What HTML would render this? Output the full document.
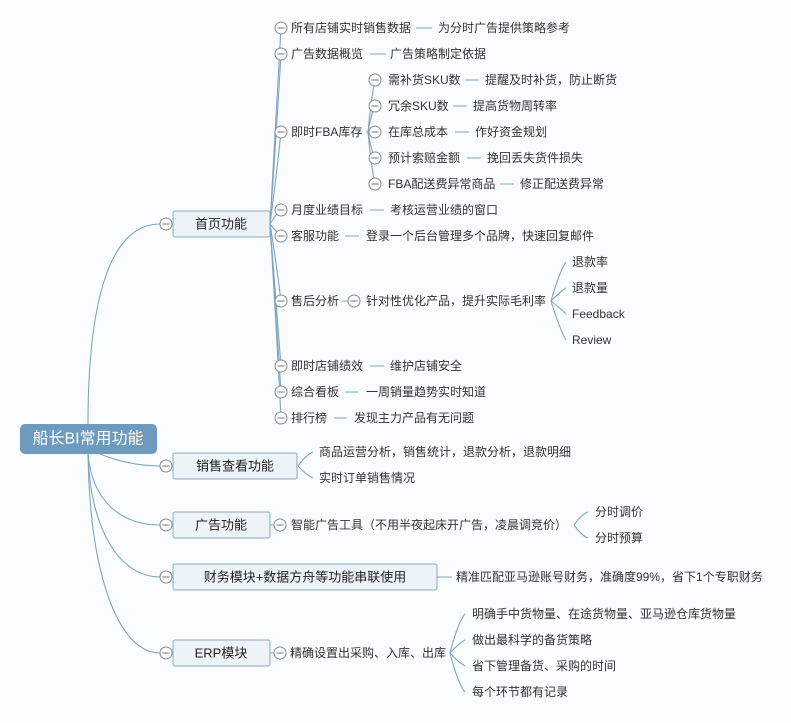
<!DOCTYPE html>
<html><head><meta charset="utf-8"><style>
html,body{margin:0;padding:0;background:#fbfcfd;}
svg{display:block;font-family:"Liberation Sans","Noto Sans CJK SC",sans-serif;}
.t{font-size:12px;fill:#333;dominant-baseline:central;}
.b{font-size:13px;fill:#222;dominant-baseline:central;text-anchor:middle;}
.l{stroke:#7fa4c2;stroke-width:1.1;fill:none;}
.d{stroke:#7fa4c2;stroke-width:1;}
.box{fill:#eef3f8;stroke:#8aaac5;stroke-width:1;}
</style></head><body>
<svg width="791" height="723" viewBox="0 0 791 723" xmlns="http://www.w3.org/2000/svg">
<defs>
<g id="c"><circle r="6" fill="#fbfcfd" stroke="#8a8a8a" stroke-width="1"/><line x1="-3.5" y1="0" x2="3.5" y2="0" stroke="#777" stroke-width="1"/></g>
</defs>
<!-- root connectors -->
<path class="l" d="M88 424 C88 300 110 224 160 224"/>
<path class="l" d="M100 454 C120 462 140 466 160 466"/>
<path class="l" d="M88 454 C92 500 120 525 160 525"/>
<path class="l" d="M88 454 C90 530 120 577 160 577"/>
<path class="l" d="M88 454 C90 580 120 653 160 653"/>
<rect x="20" y="424" width="137" height="30" rx="5" fill="#6e9bbd"/>
<text x="88" y="439" font-size="16" fill="#fff" text-anchor="middle" dominant-baseline="central">船长BI常用功能</text>

<!-- level1 boxes -->
<rect class="box" x="173" y="211" width="97" height="26" rx="2"/><text class="b" x="221" y="224">首页功能</text>
<rect class="box" x="173" y="453" width="124" height="26" rx="2"/><text class="b" x="235" y="466">销售查看功能</text>
<rect class="box" x="173" y="512" width="97" height="26" rx="2"/><text class="b" x="221" y="525">广告功能</text>
<rect class="box" x="173" y="564" width="264" height="26" rx="2"/><text class="b" x="305" y="577">财务模块+数据方舟等功能串联使用</text>
<rect class="box" x="173" y="640" width="97" height="26" rx="2"/><text class="b" x="221" y="653">ERP模块</text>
<use href="#c" x="166" y="224"/><use href="#c" x="166" y="466"/><use href="#c" x="166" y="525"/><use href="#c" x="166" y="577"/><use href="#c" x="166" y="653"/>

<!-- 首页 children connectors -->
<g class="l">
<path d="M270 224 Q276 120 281 28"/>
<path d="M270 224 Q276 140 281 54"/>
<path d="M270 224 Q276 180 281 132"/>
<path d="M270 224 Q276 214 281 210"/>
<path d="M270 224 Q276 232 281 236"/>
<path d="M270 224 Q276 260 281 301"/>
<path d="M270 224 Q276 300 281 366"/>
<path d="M270 224 Q276 310 281 392"/>
<path d="M270 224 Q276 320 281 418"/>
</g>
<use href="#c" x="281" y="28"/><use href="#c" x="281" y="54"/><use href="#c" x="281" y="132"/><use href="#c" x="281" y="210"/><use href="#c" x="281" y="236"/><use href="#c" x="281" y="301"/><use href="#c" x="281" y="366"/><use href="#c" x="281" y="392"/><use href="#c" x="281" y="418"/>

<text class="t" x="291" y="28">所有店铺实时销售数据</text><line class="d" x1="416" y1="28" x2="432" y2="28"/><text class="t" x="438" y="28">为分时广告提供策略参考</text>
<text class="t" x="291" y="54">广告数据概览</text><line class="d" x1="370" y1="54" x2="386" y2="54"/><text class="t" x="390" y="54">广告策略制定依据</text>
<text class="t" x="291" y="132">即时FBA库存</text>
<g class="l">
<path d="M368 132 Q371 100 375 80"/><path d="M368 132 Q371 115 375 106"/><path d="M366 132 L375 132"/><path d="M368 132 Q371 150 375 158"/><path d="M368 132 Q371 165 375 184"/>
</g>
<use href="#c" x="375" y="80"/><use href="#c" x="375" y="106"/><use href="#c" x="375" y="132"/><use href="#c" x="375" y="158"/><use href="#c" x="375" y="184"/>
<text class="t" x="388" y="80">需补货SKU数</text><line class="d" x1="465" y1="80" x2="479" y2="80"/><text class="t" x="485" y="80">提醒及时补货，防止断货</text>
<text class="t" x="388" y="106">冗余SKU数</text><line class="d" x1="453" y1="106" x2="467" y2="106"/><text class="t" x="473" y="106">提高货物周转率</text>
<text class="t" x="388" y="132">在库总成本</text><line class="d" x1="455" y1="132" x2="469" y2="132"/><text class="t" x="475" y="132">作好资金规划</text>
<text class="t" x="388" y="158">预计索赔金额</text><line class="d" x1="467" y1="158" x2="481" y2="158"/><text class="t" x="487" y="158">挽回丢失货件损失</text>
<text class="t" x="388" y="184">FBA配送费异常商品</text><line class="d" x1="500" y1="184" x2="514" y2="184"/><text class="t" x="520" y="184">修正配送费异常</text>
<text class="t" x="291" y="210">月度业绩目标</text><line class="d" x1="370" y1="210" x2="384" y2="210"/><text class="t" x="390" y="210">考核运营业绩的窗口</text>
<text class="t" x="291" y="236">客服功能</text><line class="d" x1="345" y1="236" x2="359" y2="236"/><text class="t" x="366" y="236">登录一个后台管理多个品牌，快速回复邮件</text>
<text class="t" x="291" y="301">售后分析</text><line class="d" x1="342" y1="301" x2="348" y2="301"/><use href="#c" x="354" y="301"/>
<text class="t" x="366" y="301">针对性优化产品，提升实际毛利率</text>
<g class="l">
<path d="M551 301 Q560 270 566 262"/><path d="M551 301 Q560 292 566 288"/><path d="M551 301 Q560 308 566 314"/><path d="M551 301 Q560 330 566 340"/>
</g>
<text class="t" x="572" y="262">退款率</text><text class="t" x="572" y="288">退款量</text><text class="t" x="572" y="314">Feedback</text><text class="t" x="572" y="340">Review</text>
<text class="t" x="291" y="366">即时店铺绩效</text><line class="d" x1="370" y1="366" x2="384" y2="366"/><text class="t" x="390" y="366">维护店铺安全</text>
<text class="t" x="291" y="392">综合看板</text><line class="d" x1="345" y1="392" x2="358" y2="392"/><text class="t" x="366" y="392">一周销量趋势实时知道</text>
<text class="t" x="291" y="418">排行榜</text><line class="d" x1="334" y1="418" x2="347" y2="418"/><text class="t" x="354" y="418">发现主力产品有无问题</text>

<!-- 销售查看 -->
<g class="l"><path d="M298 466 Q306 455 313 452"/><path d="M298 466 Q306 475 313 478"/></g>
<text class="t" x="319" y="452">商品运营分析，销售统计，退款分析，退款明细</text>
<text class="t" x="319" y="478">实时订单销售情况</text>

<!-- 广告 -->
<line class="d" x1="270" y1="525" x2="275" y2="525"/><use href="#c" x="280" y="525"/>
<text class="t" x="291" y="525">智能广告工具（不用半夜起床开广告，凌晨调竞价）</text>
<g class="l"><path d="M574 525 Q582 514 588 512"/><path d="M574 525 Q582 536 588 538"/></g>
<text class="t" x="595" y="512">分时调价</text><text class="t" x="595" y="538">分时预算</text>

<!-- 财务 -->
<line class="d" x1="437" y1="577" x2="452" y2="577"/>
<text class="t" x="456" y="577">精准匹配亚马逊账号财务，准确度99%，省下1个专职财务</text>

<!-- ERP -->
<line class="d" x1="270" y1="653" x2="275" y2="653"/><use href="#c" x="280" y="653"/>
<text class="t" x="290" y="653">精确设置出采购、入库、出库</text>
<g class="l"><path d="M450 653 Q458 622 465 614"/><path d="M450 653 Q458 644 465 640"/><path d="M450 653 Q458 662 465 666"/><path d="M450 653 Q458 684 465 692"/></g>
<text class="t" x="472" y="614">明确手中货物量、在途货物量、亚马逊仓库货物量</text>
<text class="t" x="472" y="640">做出最科学的备货策略</text>
<text class="t" x="472" y="666">省下管理备货、采购的时间</text>
<text class="t" x="472" y="692">每个环节都有记录</text>
</svg>
</body></html>
